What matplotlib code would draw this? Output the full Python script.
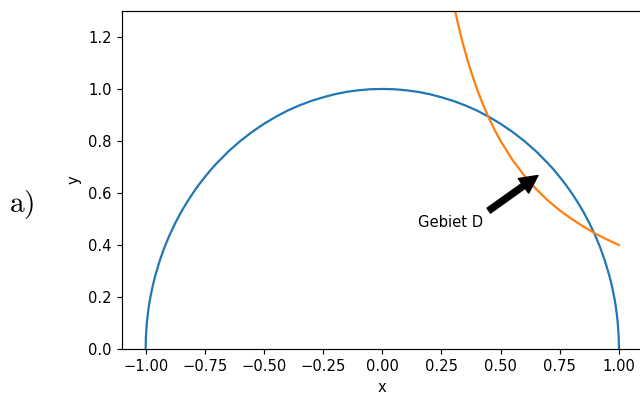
import matplotlib
matplotlib.use('Agg')
import matplotlib.pyplot as plt

# halbkreis (blau)
kreis_x = [-1.0, -0.999, -0.995, -0.99, -0.985, -0.98, -0.97, -0.96, -0.94, -0.92,
           -0.9, -0.875, -0.85, -0.825, -0.8,
           -0.775, -0.75, -0.725, -0.7, -0.65, -0.6, -0.55, -0.5, -0.45, -0.4,
           -0.35, -0.3, -0.25, -0.2, -0.15, -0.1, -0.05, 0.0,
           0.05, 0.1, 0.15, 0.2, 0.25, 0.3, 0.35, 0.4, 0.45, 0.5, 0.55, 0.6,
           0.65, 0.7, 0.725, 0.75, 0.775, 0.8, 0.825, 0.85, 0.875, 0.9, 0.92,
           0.94, 0.96, 0.97, 0.98, 0.985, 0.99, 0.995, 0.999, 1.0]
kreis_y = [0.0, 0.045, 0.1, 0.141, 0.173, 0.199, 0.243, 0.28, 0.341, 0.392,
           0.436, 0.484, 0.527, 0.565, 0.6,
           0.632, 0.661, 0.689, 0.714, 0.76, 0.8, 0.835, 0.866, 0.893, 0.917,
           0.937, 0.954, 0.968, 0.98, 0.989, 0.995, 0.999, 1.0,
           0.999, 0.995, 0.989, 0.98, 0.968, 0.954, 0.937, 0.917, 0.893, 0.866, 0.835, 0.8,
           0.76, 0.714, 0.689, 0.661, 0.632, 0.6, 0.565, 0.527, 0.484, 0.436, 0.392,
           0.341, 0.28, 0.243, 0.199, 0.173, 0.141, 0.1, 0.045, 0.0]

# hyperbel (orange)
hyp_x = [0.28, 0.3, 0.32, 0.34, 0.36, 0.38, 0.4, 0.425, 0.45, 0.475, 0.5, 0.55,
         0.6, 0.65, 0.7, 0.75, 0.8, 0.85, 0.9, 0.95, 1.0]
hyp_y = [1.429, 1.333, 1.25, 1.176, 1.111, 1.053, 1.0, 0.941, 0.889, 0.842, 0.8, 0.727,
         0.667, 0.615, 0.571, 0.533, 0.5, 0.471, 0.444, 0.421, 0.4]

beschriftung = 'Gebiet D'
pfeil_ziel = (0.67, 0.675)
text_pos = (0.15, 0.47)

plt.rcParams['mathtext.fontset'] = 'cm'
dpi = 106.67
fig = plt.figure(figsize=(640 / dpi, 394 / dpi), dpi=dpi)
ax = fig.add_axes([0.1906, 0.1142, 0.8135, 0.858])

ax.plot(kreis_x, kreis_y)
ax.plot(hyp_x, hyp_y)
ax.annotate(beschriftung, xy=pfeil_ziel, xytext=text_pos,
            arrowprops=dict(facecolor='black', shrink=0.05))

ax.set_xlim(-1.1, 1.1)
ax.set_ylim(0, 1.3)
ax.set_xlabel('x')
ax.set_ylabel('y')

fig.text(0.014, 0.48, r'$\mathrm{a)}$', fontsize=20, va='center')

fig.savefig('out.png', dpi=dpi)
